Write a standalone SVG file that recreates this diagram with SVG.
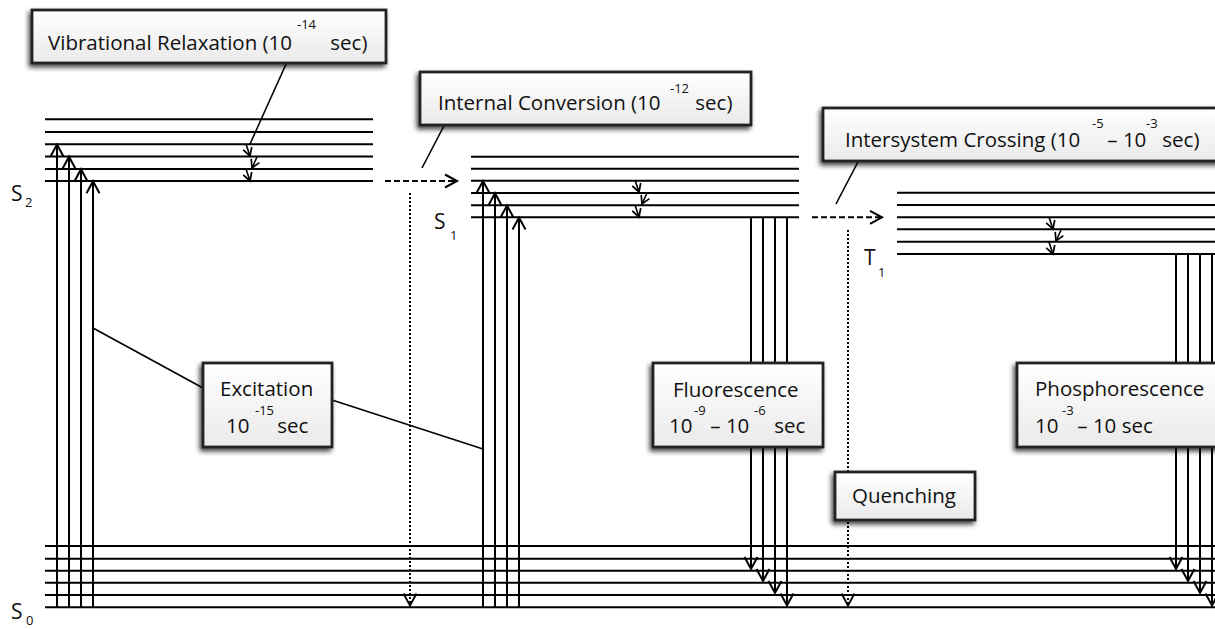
<svg xmlns="http://www.w3.org/2000/svg" width="1215" height="629" viewBox="0 0 1215 629">
<defs>
<style>
.lv{stroke:#000;stroke-width:2;fill:none}
.ar{stroke:#000;stroke-width:2;fill:none;marker-end:url(#ah)}
.sa{stroke:#000;stroke-width:1.6;fill:none;marker-end:url(#ahs)}
.dash{stroke:#000;stroke-width:2;stroke-dasharray:6 3;fill:none;marker-end:url(#ah)}
.dot{stroke:#000;stroke-width:2;stroke-dasharray:2 2;fill:none;marker-end:url(#ahd)}
.ld{stroke:#000;stroke-width:1.6;fill:none}
.box{fill:url(#bg);stroke:#222;stroke-width:2.8;filter:url(#sh)}
.t{font-family:"Open Sans","Liberation Sans",sans-serif;font-size:20.5px;fill:#111}
.lab{font-family:"Open Sans","Liberation Sans",sans-serif;font-size:21px;fill:#111}
.sup{font-size:13px}
</style>
<linearGradient id="bg" x1="0" y1="0" x2="0" y2="1">
<stop offset="0" stop-color="#ffffff"/>
<stop offset="1" stop-color="#eaeaea"/>
</linearGradient>
<filter id="sh" x="-20%" y="-30%" width="140%" height="160%">
<feDropShadow dx="-2" dy="3" stdDeviation="2.5" flood-color="#000" flood-opacity="0.75"/>
</filter>
<marker id="ah" markerUnits="userSpaceOnUse" viewBox="-14 -8 16 16" markerWidth="16" markerHeight="16" refX="0" refY="0" orient="auto" overflow="visible">
<path d="M-12,-6.5 L0,0 L-12,6.5" fill="none" stroke="#000" stroke-width="2" stroke-dasharray="none"/>
</marker>
<marker id="ahd" markerUnits="userSpaceOnUse" viewBox="-14 -8 16 16" markerWidth="16" markerHeight="16" refX="0" refY="0" orient="auto" overflow="visible">
<path d="M-12,-6.5 L0,0 L-12,6.5" fill="none" stroke="#000" stroke-width="1.8" stroke-dasharray="none"/>
</marker>
<marker id="ahs" markerUnits="userSpaceOnUse" viewBox="-9 -6 11 12" markerWidth="11" markerHeight="12" refX="0" refY="0" orient="auto" overflow="visible">
<path d="M-8,-4.5 L0,0 L-8,4.5" fill="none" stroke="#000" stroke-width="1.7" stroke-dasharray="none"/>
</marker>
</defs>
<rect width="1215" height="629" fill="#fff"/>

<g id="levels">
<g id="S2-levels">
<line class="lv" x1="45" y1="119.3" x2="373" y2="119.3"/>
<line class="lv" x1="45" y1="132" x2="373" y2="132"/>
<line class="lv" x1="45" y1="144.3" x2="373" y2="144.3"/>
<line class="lv" x1="45" y1="156.5" x2="373" y2="156.5"/>
<line class="lv" x1="45" y1="169" x2="373" y2="169"/>
<line class="lv" x1="45" y1="181" x2="373" y2="181"/>
</g>
<g id="S1-levels">
<line class="lv" x1="471" y1="156.7" x2="799" y2="156.7"/>
<line class="lv" x1="471" y1="168.7" x2="799" y2="168.7"/>
<line class="lv" x1="471" y1="180.7" x2="799" y2="180.7"/>
<line class="lv" x1="471" y1="193" x2="799" y2="193"/>
<line class="lv" x1="471" y1="205.3" x2="799" y2="205.3"/>
<line class="lv" x1="471" y1="217.3" x2="799" y2="217.3"/>
</g>
<g id="T1-levels">
<line class="lv" x1="897" y1="192.7" x2="1215" y2="192.7"/>
<line class="lv" x1="897" y1="205" x2="1215" y2="205"/>
<line class="lv" x1="897" y1="217.3" x2="1215" y2="217.3"/>
<line class="lv" x1="897" y1="229.3" x2="1215" y2="229.3"/>
<line class="lv" x1="897" y1="241.7" x2="1215" y2="241.7"/>
<line class="lv" x1="897" y1="254" x2="1215" y2="254"/>
</g>
<g id="S0-levels">
<line class="lv" x1="45" y1="546" x2="1215" y2="546"/>
<line class="lv" x1="45" y1="558.7" x2="1215" y2="558.7"/>
<line class="lv" x1="45" y1="570.7" x2="1215" y2="570.7"/>
<line class="lv" x1="45" y1="582.7" x2="1215" y2="582.7"/>
<line class="lv" x1="45" y1="595" x2="1215" y2="595"/>
<line class="lv" x1="45" y1="607.3" x2="1215" y2="607.3"/>
</g>
</g>

<g id="state-labels">
<text class="lab" x="11" y="201">S<tspan class="sup" x="25" y="207">2</tspan></text>
<text class="lab" x="434" y="229">S<tspan class="sup" x="450" y="240">1</tspan></text>
<text class="lab" x="864" y="265">T<tspan class="sup" x="878" y="277">1</tspan></text>
<text class="lab" x="11" y="619">S<tspan class="sup" x="26" y="625">0</tspan></text>
</g>

<g id="connectors">
<line class="ar" x1="57" y1="607" x2="57" y2="144.5"/>
<line class="ar" x1="69" y1="607" x2="69" y2="156.7"/>
<line class="ar" x1="81" y1="607" x2="81" y2="169.2"/>
<line class="ar" x1="93" y1="607" x2="93" y2="181.2"/>
<line class="ar" x1="483" y1="607" x2="483" y2="181"/>
<line class="ar" x1="495" y1="607" x2="495" y2="193.2"/>
<line class="ar" x1="507" y1="607" x2="507" y2="205.5"/>
<line class="ar" x1="519" y1="607" x2="519" y2="217.5"/>
<line class="sa" x1="246" y1="144" x2="250" y2="156"/>
<line class="sa" x1="257" y1="157" x2="252" y2="168"/>
<line class="sa" x1="246" y1="169" x2="250" y2="181"/>
<line class="sa" x1="635" y1="180" x2="639" y2="192"/>
<line class="sa" x1="647" y1="193" x2="642" y2="204"/>
<line class="sa" x1="635" y1="205" x2="639" y2="217"/>
<line class="sa" x1="1049" y1="217" x2="1053" y2="229"/>
<line class="sa" x1="1061" y1="230" x2="1056" y2="241"/>
<line class="sa" x1="1049" y1="242" x2="1053" y2="254"/>
<line class="dash" x1="385" y1="181" x2="457" y2="181"/>
<line class="dash" x1="812" y1="217.3" x2="882" y2="217.3"/>
<line class="dot" x1="410" y1="193" x2="410" y2="605.5"/>
<line class="dot" x1="848" y1="230" x2="848" y2="605.5"/>
<line class="ar" x1="751" y1="217" x2="751" y2="569"/>
<line class="ar" x1="763" y1="217" x2="763" y2="581"/>
<line class="ar" x1="775" y1="217" x2="775" y2="593"/>
<line class="ar" x1="787" y1="217" x2="787" y2="605.5"/>
<line class="ar" x1="1176" y1="254" x2="1176" y2="569"/>
<line class="ar" x1="1188" y1="254" x2="1188" y2="581"/>
<line class="ar" x1="1200" y1="254" x2="1200" y2="593"/>
<line class="ar" x1="1212" y1="254" x2="1212" y2="605.5"/>
<line class="ld" x1="287" y1="62" x2="250" y2="144"/>
<line class="ld" x1="447" y1="120" x2="422" y2="168"/>
<line class="ld" x1="860" y1="158" x2="836" y2="204"/>
<line class="ld" x1="93" y1="328" x2="203" y2="388"/>
<line class="ld" x1="332" y1="400" x2="483" y2="449"/>
</g>

<g id="vibrational-relaxation">
<rect class="box" x="32" y="10" width="354" height="53"/>
<text class="t" x="48" y="50">Vibrational Relaxation (10<tspan class="sup" x="297" y="29">-14</tspan><tspan x="325" y="50"> sec)</tspan></text>
</g>
<g id="internal-conversion">
<rect class="box" x="420" y="72" width="331" height="53"/>
<text class="t" x="438" y="110">Internal Conversion (10<tspan class="sup" x="670" y="93">-12</tspan><tspan x="690" y="110"> sec)</tspan></text>
</g>
<g id="intersystem-crossing">
<rect class="box" x="823" y="108" width="410" height="53"/>
<text class="t" x="845" y="147">Intersystem Crossing (10<tspan class="sup" x="1092" y="128">-5</tspan><tspan x="1102" y="147"> – 10</tspan><tspan class="sup" x="1146" y="128">-3</tspan><tspan x="1157" y="147"> sec)</tspan></text>
</g>
<g id="excitation">
<rect class="box" x="203" y="363" width="129" height="84"/>
<text class="t" x="220" y="396">Excitation<tspan x="226" y="433">10</tspan><tspan class="sup" x="255" y="415" font-size="12.5">-15</tspan><tspan x="272" y="433"> sec</tspan></text>
</g>
<g id="fluorescence">
<rect class="box" x="653" y="363" width="170" height="84"/>
<text class="t" x="673" y="397">Fluorescence<tspan x="669" y="433">10</tspan><tspan class="sup" x="694" y="415">-9</tspan><tspan x="705" y="433"> – 10</tspan><tspan class="sup" x="754" y="415">-6</tspan><tspan x="769" y="433"> sec</tspan></text>
</g>
<g id="phosphorescence">
<rect class="box" x="1017" y="363" width="220" height="84"/>
<text class="t" x="1035" y="396">Phosphorescence<tspan x="1035" y="433">10</tspan><tspan class="sup" x="1062" y="415">-3</tspan><tspan x="1072" y="433"> – 10 sec</tspan></text>
</g>
<g id="quenching">
<rect class="box" x="835" y="472" width="140" height="48"/>
<text class="t" x="852" y="503">Quenching</text>
</g>
</svg>
